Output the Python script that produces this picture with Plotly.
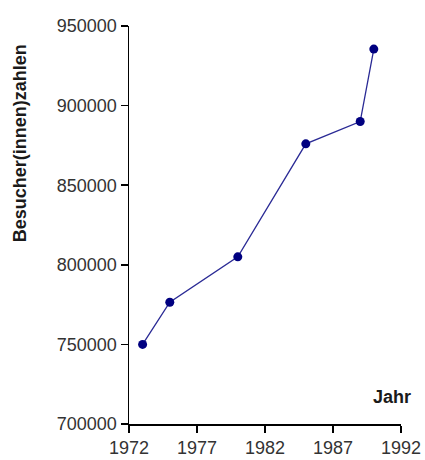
import plotly.graph_objects as go

years = [1973, 1975, 1980, 1985, 1989, 1990]
visitors = [750000, 776500, 805000, 876000, 890000, 935500]

x_ticks = [1972, 1977, 1982, 1987, 1992]
y_ticks = [700000, 750000, 800000, 850000, 900000, 950000]

fig = go.Figure()
fig.add_trace(go.Scatter(
    x=years, y=visitors, mode="lines+markers",
    line=dict(color="#2a2a95", width=1.3),
    marker=dict(color="#000080", size=9),
    showlegend=False, hoverinfo="skip",
))

axis_font = dict(family="Liberation Sans, Arial, sans-serif", size=18, color="#333333")
fig.update_layout(
    width=425, height=460,
    margin=dict(l=129, r=24, t=26, b=36, autoexpand=False),
    paper_bgcolor="white", plot_bgcolor="white",
    xaxis=dict(range=[1972, 1992], tickvals=x_ticks, ticktext=[str(v) for v in x_ticks],
               showgrid=False, zeroline=False, showline=True, linecolor="black", linewidth=1.5,
               ticks="outside", ticklen=7, tickcolor="black", tickwidth=1.5,
               tickfont=axis_font, fixedrange=True, automargin=False),
    yaxis=dict(range=[700000, 950000], tickvals=y_ticks, ticktext=[str(v) for v in y_ticks],
               showgrid=False, zeroline=False, showline=True, linecolor="black", linewidth=1.5,
               ticks="outside", ticklen=7, tickcolor="black", tickwidth=1.5,
               tickfont=axis_font, fixedrange=True, automargin=False),
    annotations=[
        dict(text="<b>Besucher(innen)zahlen</b>", xref="paper", yref="paper",
             x=-0.40, y=0.706, textangle=-90, showarrow=False,
             font=dict(family="Liberation Sans, Arial, sans-serif", size=18, color="#1a1a1a"),
             xanchor="center", yanchor="middle"),
        dict(text="<b>Jahr</b>", xref="paper", yref="paper",
             x=0.967, y=0.0666, showarrow=False,
             font=dict(family="Liberation Sans, Arial, sans-serif", size=18, color="#1a1a1a"),
             xanchor="center", yanchor="middle"),
    ],
)

fig.write_html("out.html",
               config={"displayModeBar": False, "staticPlot": True},
               post_script="document.body.style.margin='0';document.body.style.overflow='hidden';")
